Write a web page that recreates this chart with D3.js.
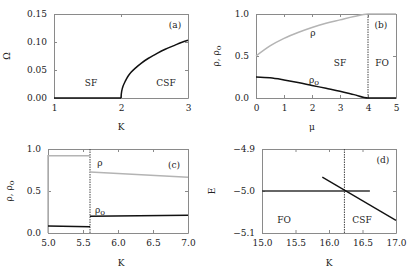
<!DOCTYPE html>
<meta charset="utf-8">
<style>
body { margin: 0; background: #fff; }
text { font-family: "DejaVu Serif", serif; font-size: 9px; fill: #222; }
</style>
<body>
<script src="https://cdn.jsdelivr.net/npm/d3@7"></script>
<script>
// (a) Omega vs K
var omegaK = [1.0, 1.5, 1.99, 2.0, 2.01, 2.03, 2.06, 2.1, 2.15, 2.21, 2.3, 2.41, 2.5, 2.66, 2.8, 2.9, 3.0],
    omegaV = [0, 0, 0, 0, 0.012, 0.021, 0.029, 0.038, 0.046, 0.053, 0.062, 0.071, 0.077, 0.087, 0.094, 0.099, 0.103];

// (b) rho, rho0 vs mu
var muVals  = [0, 0.5, 1, 1.5, 2, 2.5, 3, 3.5, 4, 5],
    rhoB    = [0.5, 0.62, 0.71, 0.78, 0.84, 0.89, 0.93, 0.97, 1.0, 1.0],
    rho0B   = [0.25, 0.24, 0.215, 0.185, 0.15, 0.115, 0.08, 0.04, 0, 0];

// (c) rho, rho0 vs K (two branches)
var kLeftRho = [5.0, 5.0, 5.6], kLeft = [5.0, 5.6], kRight = [5.6, 7.0],
    rhoCL = [0.0, 0.92, 0.92], rhoCR = [0.725, 0.665],
    rho0CL = [0.083, 0.075], rho0CR = [0.198, 0.21];

// (d) E vs K
var kFlat = [15.0, 16.61], eFlat = [-5.0, -5.0],
    kDiag = [15.9, 17.0], eDiag = [-4.967, -5.07];

var svg = d3.select("body").append("svg")
    .attr("width", 415).attr("height", 271);

function panel(o) {
  var x = d3.scaleLinear().domain(o.xd).range([o.x0, o.x1]),
      y = d3.scaleLinear().domain(o.yd).range([o.y1, o.y0]);
  var g = svg.append("g");
  var axes = [
    [d3.axisBottom(x).tickValues(o.xt).tickFormat(d3.format(o.xf)).tickSizeInner(-3), "translate(0," + o.y1 + ")", true],
    [d3.axisTop(x).tickValues(o.xt).tickSizeInner(-3), "translate(0," + o.y0 + ")", false],
    [d3.axisLeft(y).tickValues(o.yt).tickFormat(d3.format(o.yf)).tickSizeInner(-3), "translate(" + o.x0 + ",0)", true],
    [d3.axisRight(y).tickValues(o.yt).tickSizeInner(-3), "translate(" + o.x1 + ",0)", false]
  ];
  axes.forEach(function(a) {
    var ax = g.append("g").attr("transform", a[1]).call(a[0].tickSizeOuter(0).tickPadding(7));
    ax.attr("font-family", null);
    ax.select(".domain").attr("stroke", "#8a8a8a");
    ax.selectAll(".tick line").attr("stroke", "#8a8a8a");
    ax.selectAll("text").attr("fill", "#222").style("font-family", "DejaVu Serif").style("font-size", "9px");
    if (!a[2]) ax.selectAll("text").remove();
  });
  return {x: x, y: y, g: g};
}

function line(p, xs, ys, col, w, curve) {
  p.g.append("path")
    .datum(xs.map(function(d, i) { return [d, ys[i]]; }))
    .attr("fill", "none").attr("stroke", col).attr("stroke-width", w)
    .attr("d", d3.line().x(function(d) { return p.x(d[0]); }).y(function(d) { return p.y(d[1]); }).curve(curve || d3.curveMonotoneX));
}

function vdash(p, xv) {
  p.g.append("line")
    .attr("x1", p.x(xv)).attr("x2", p.x(xv))
    .attr("y1", p.y.range()[1]).attr("y2", p.y.range()[0])
    .attr("stroke", "#444").attr("stroke-width", 1).attr("stroke-dasharray", "1.5,1");
}

function label(x, y, t, sub, anchor) {
  var tx = svg.append("text").attr("x", x).attr("y", y).attr("text-anchor", anchor || "middle").text(t);
  if (sub) tx.append("tspan").attr("dy", 2).style("font-size", "8px").text(sub);
  return tx;
}

function ytitle(x, y, t, parts) {
  var tx = svg.append("text").attr("transform", "translate(" + x + "," + y + ") rotate(-90)")
    .attr("text-anchor", "middle");
  if (parts) {
    tx.append("tspan").text("ρ, ρ");
    tx.append("tspan").attr("dy", 2).style("font-size", "8px").text("o");
  } else tx.text(t);
}

// panel (a)
var pa = panel({xd: [1, 3], yd: [0, 0.15], x0: 54, x1: 188, y0: 14, y1: 98,
  xt: [1, 2, 3], yt: [0, 0.05, 0.10, 0.15], xf: "d", yf: ".2f"});
line(pa, omegaK.slice(0, 4), omegaV.slice(0, 4), "#111", 1.5);
line(pa, omegaK.slice(3), omegaV.slice(3), "#111", 1.5, d3.curveMonotoneY);
label(175, 28, "(a)");
label(91, 86, "SF");
label(166, 86, "CSF");
ytitle(10, 56, "Ω");
label(121, 130, "K");

// panel (b)
var pb = panel({xd: [0, 5], yd: [0, 1], x0: 256, x1: 396, y0: 14, y1: 98,
  xt: [0, 1, 2, 3, 4, 5], yt: [0, 0.5, 1.0], xf: "d", yf: ".1f"});
vdash(pb, 4);
line(pb, muVals, rhoB, "#b4b4b4", 1.5);
line(pb, muVals, rho0B, "#111", 1.5);
label(381, 28, "(b)");
label(340, 66, "SF");
label(382, 66, "FO");
label(313, 36, "ρ");
label(314, 83, "ρ", "o");
ytitle(219, 56, null, true);
label(312, 130, "μ");

// panel (c)
var pc = panel({xd: [5, 7], yd: [0, 1], x0: 48, x1: 188, y0: 149, y1: 233,
  xt: [5, 5.5, 6, 6.5, 7], yt: [0, 0.5, 1.0], xf: ".1f", yf: ".1f"});
vdash(pc, 5.6);
line(pc, kLeftRho, rhoCL, "#b4b4b4", 1.5, d3.curveLinear);
line(pc, kRight, rhoCR, "#b4b4b4", 1.5, d3.curveLinear);
line(pc, kLeft, rho0CL, "#111", 1.5, d3.curveLinear);
line(pc, kRight, rho0CR, "#111", 1.5, d3.curveLinear);
label(174, 168, "(c)");
label(100, 166, "ρ");
label(100, 213, "ρ", "o");
ytitle(12, 191, null, true);
label(121, 266, "K");

// panel (d)
var pd = panel({xd: [15, 17], yd: [-5.1, -4.9], x0: 262, x1: 396, y0: 149, y1: 233,
  xt: [15, 15.5, 16, 16.5, 17], yt: [-5.1, -5.0, -4.9], xf: ".1f", yf: ".1f"});
vdash(pd, 16.23);
line(pd, kFlat, eFlat, "#333", 1.5);
line(pd, kDiag, eDiag, "#111", 1.3);
label(383, 163, "(d)");
label(284, 223, "FO");
label(362, 223, "CSF");
ytitle(215, 191, "E");
label(329, 266, "K");
</script>
</body>
